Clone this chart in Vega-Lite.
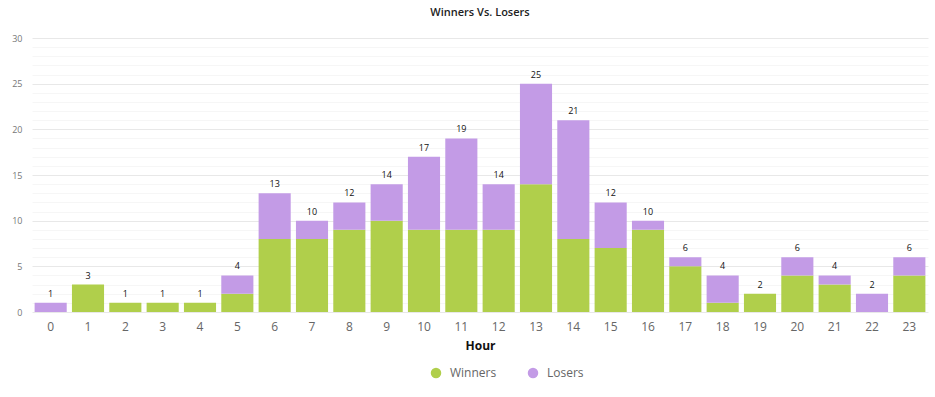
{
  "$schema": "https://vega.github.io/schema/vega-lite/v6.json",
  "width": 896,
  "height": 274,
  "autosize": {"type": "none"},
  "padding": {"left": 32, "top": 38, "right": 7, "bottom": 85},
  "background": "white",
  "config": {"font": "Open Sans", "view": {"stroke": null}},
  "title": {"text": "Winners Vs. Losers", "fontSize": 11, "fontWeight": 600, "color": "#222", "anchor": "middle", "offset": 16, "font": "Open Sans"},
  "data": {"values": [
    {"hour": 0, "type": "Winners", "count": 0}, {"hour": 0, "type": "Losers", "count": 1},
    {"hour": 1, "type": "Winners", "count": 3}, {"hour": 1, "type": "Losers", "count": 0},
    {"hour": 2, "type": "Winners", "count": 1}, {"hour": 2, "type": "Losers", "count": 0},
    {"hour": 3, "type": "Winners", "count": 1}, {"hour": 3, "type": "Losers", "count": 0},
    {"hour": 4, "type": "Winners", "count": 1}, {"hour": 4, "type": "Losers", "count": 0},
    {"hour": 5, "type": "Winners", "count": 2}, {"hour": 5, "type": "Losers", "count": 2},
    {"hour": 6, "type": "Winners", "count": 8}, {"hour": 6, "type": "Losers", "count": 5},
    {"hour": 7, "type": "Winners", "count": 8}, {"hour": 7, "type": "Losers", "count": 2},
    {"hour": 8, "type": "Winners", "count": 9}, {"hour": 8, "type": "Losers", "count": 3},
    {"hour": 9, "type": "Winners", "count": 10}, {"hour": 9, "type": "Losers", "count": 4},
    {"hour": 10, "type": "Winners", "count": 9}, {"hour": 10, "type": "Losers", "count": 8},
    {"hour": 11, "type": "Winners", "count": 9}, {"hour": 11, "type": "Losers", "count": 10},
    {"hour": 12, "type": "Winners", "count": 9}, {"hour": 12, "type": "Losers", "count": 5},
    {"hour": 13, "type": "Winners", "count": 14}, {"hour": 13, "type": "Losers", "count": 11},
    {"hour": 14, "type": "Winners", "count": 8}, {"hour": 14, "type": "Losers", "count": 13},
    {"hour": 15, "type": "Winners", "count": 7}, {"hour": 15, "type": "Losers", "count": 5},
    {"hour": 16, "type": "Winners", "count": 9}, {"hour": 16, "type": "Losers", "count": 1},
    {"hour": 17, "type": "Winners", "count": 5}, {"hour": 17, "type": "Losers", "count": 1},
    {"hour": 18, "type": "Winners", "count": 1}, {"hour": 18, "type": "Losers", "count": 3},
    {"hour": 19, "type": "Winners", "count": 2}, {"hour": 19, "type": "Losers", "count": 0},
    {"hour": 20, "type": "Winners", "count": 4}, {"hour": 20, "type": "Losers", "count": 2},
    {"hour": 21, "type": "Winners", "count": 3}, {"hour": 21, "type": "Losers", "count": 1},
    {"hour": 22, "type": "Winners", "count": 0}, {"hour": 22, "type": "Losers", "count": 2},
    {"hour": 23, "type": "Winners", "count": 4}, {"hour": 23, "type": "Losers", "count": 2}
  ]},
  "encoding": {
    "x": {"field": "hour", "type": "ordinal", "scale": {"paddingInner": 0.14, "paddingOuter": 0.07},
      "axis": {"title": "Hour", "titleFontSize": 12, "titleFontWeight": "bold", "titleColor": "#111", "titlePadding": 8, "titleFont": "Open Sans",
        "labelAngle": 0, "labelFontSize": 12, "labelColor": "#666", "labelPadding": 9, "ticks": false, "domain": false, "grid": false}}
  },
  "layer": [
    {
      "mark": {"type": "bar"},
      "encoding": {
        "y": {"field": "count", "type": "quantitative", "stack": "zero",
          "scale": {"domain": [0, 30], "nice": false},
          "axis": {"title": null, "values": [0,1,2,3,4,5,6,7,8,9,10,11,12,13,14,15,16,17,18,19,20,21,22,23,24,25,26,27,28,29,30],
            "labelExpr": "datum.value % 5 === 0 ? datum.label : ''",
            "labelFontSize": 9, "labelColor": "#777", "labelPadding": 10, "ticks": false, "domain": false,
            "gridColor": {"condition": {"test": "datum.value % 5 === 0", "value": "#e8e8e8"}, "value": "#f6f6f6"}}},
        "color": {"field": "type", "type": "nominal",
          "scale": {"domain": ["Winners", "Losers"], "range": ["#b0cf4b", "#c39be6"]},
          "legend": {"title": null, "orient": "none", "legendX": 398, "legendY": 329, "direction": "horizontal", "symbolType": "circle", "symbolSize": 110,
            "labelFontSize": 12, "labelColor": "#666", "columnPadding": 30, "labelOffset": 8}},
        "order": {"field": "type", "sort": "descending"}
      }
    },
    {
      "transform": [{"aggregate": [{"op": "sum", "field": "count", "as": "total"}], "groupby": ["hour"]}],
      "mark": {"type": "text", "fontSize": 9, "dy": -9, "color": "#111"},
      "encoding": {
        "y": {"field": "total", "type": "quantitative",
          "axis": {"title": null, "values": [0,1,2,3,4,5,6,7,8,9,10,11,12,13,14,15,16,17,18,19,20,21,22,23,24,25,26,27,28,29,30],
            "labelExpr": "datum.value % 5 === 0 ? datum.label : ''",
            "labelFontSize": 9, "labelColor": "#777", "labelPadding": 10, "ticks": false, "domain": false,
            "gridColor": {"condition": {"test": "datum.value % 5 === 0", "value": "#e8e8e8"}, "value": "#f6f6f6"}}},
        "text": {"field": "total", "type": "quantitative"}
      }
    }
  ]
}
